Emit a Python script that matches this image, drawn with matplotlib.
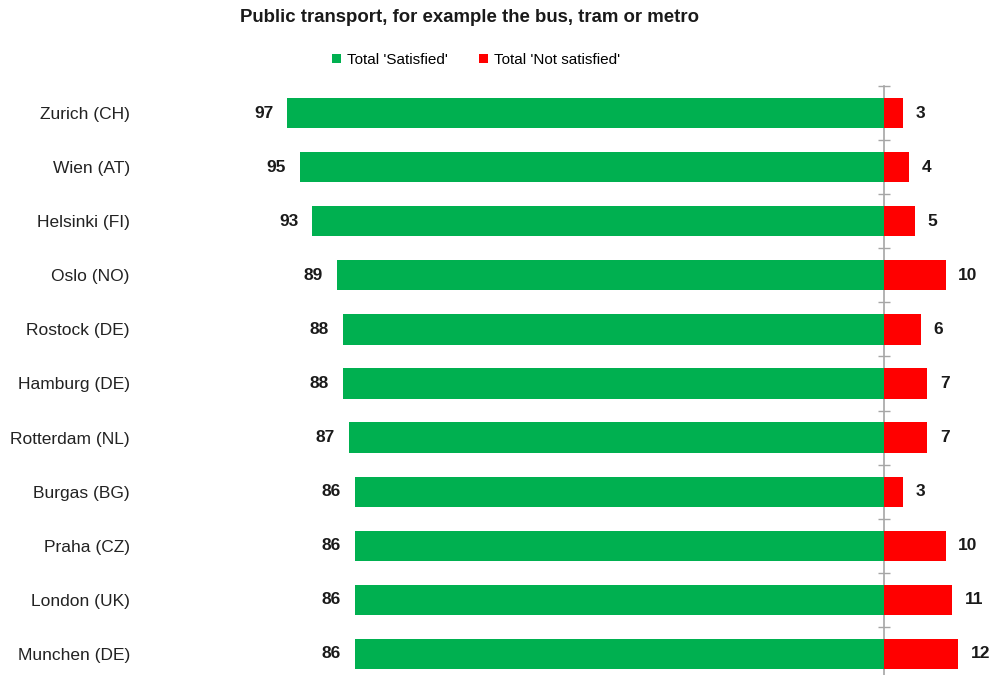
import matplotlib
matplotlib.use("Agg")
from matplotlib import pyplot as plt
import numpy as np

plt.rcParams['font.family'] = ['Liberation Sans', 'DejaVu Sans']

# data
cities = ["Zurich (CH)", "Wien (AT)", "Helsinki (FI)", "Oslo (NO)", "Rostock (DE)",
          "Hamburg (DE)", "Rotterdam (NL)", "Burgas (BG)", "Praha (CZ)",
          "London (UK)", "Munchen (DE)"]
satisfied = [97, 95, 93, 89, 88, 88, 87, 86, 86, 86, 86]
not_satisfied = [3, 4, 5, 10, 6, 7, 7, 3, 10, 11, 12]

green = "#00B050"
red = "#FF0000"

fig = plt.figure(figsize=(9.95, 6.75), dpi=100)
ax = fig.add_axes([0.2394, 0.0, 0.7606, 1 - 86 / 675])

y = np.arange(len(cities))
ax.barh(y, [-v for v in satisfied], height=0.56, color=green, label="Total 'Satisfied'")
ax.barh(y, not_satisfied, height=0.56, color=red, label="Total 'Not satisfied'")

for i in range(len(cities)):
    ax.annotate(str(satisfied[i]), (-satisfied[i], y[i]), xytext=(-10, 0),
                textcoords="offset points", ha="right", va="center",
                fontsize=12.5, fontweight="bold", color="#1a1a1a")
    ax.annotate(str(not_satisfied[i]), (not_satisfied[i], y[i]), xytext=(9, 0),
                textcoords="offset points", ha="left", va="center",
                fontsize=12.5, fontweight="bold", color="#1a1a1a")

xmin, xmax = -105, 18
ax.set_xlim(xmin, xmax)
ax.set_ylim(10.39, -0.5)

for s in ax.spines.values():
    s.set_visible(False)
ax.set_xticks([])
ax.set_yticks(y)
ax.set_yticklabels(cities, fontsize=12.5, color="#222222")
ax.tick_params(axis="y", length=0, pad=78)

# centre axis line with ticks between categories
sec = ax.secondary_yaxis((0 - xmin) / (xmax - xmin))
for s in sec.spines.values():
    s.set_color("#a6a6a6")
    s.set_linewidth(1.2)
sec.set_yticks(np.arange(-0.5, len(cities), 1.0))
sec.set_yticklabels([])
sec.tick_params(axis="y", direction="inout", length=9, width=1.0, colors="#a6a6a6")

fig.text(470 / 995, 1 - 18 / 675, "Public transport, for example the bus, tram or metro",
         ha="center", va="center", fontsize=13.4, fontweight="bold", color="#1a1a1a")

fig.legend(loc="center", bbox_to_anchor=(476 / 995, 1 - 60 / 675), ncol=2, frameon=False,
           fontsize=11, handlelength=0.6, handleheight=0.6, handletextpad=0.4,
           columnspacing=2.0)

fig.savefig("out.png", dpi=100)
